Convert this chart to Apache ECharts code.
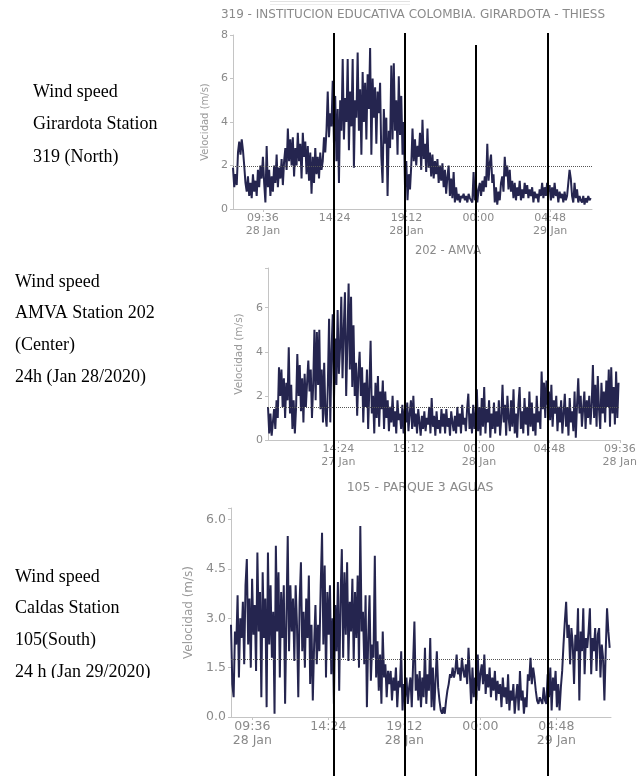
<!DOCTYPE html>
<html><head><meta charset="utf-8">
<script src="https://cdn.jsdelivr.net/npm/echarts@6/dist/echarts.min.js"></script>
<style>html,body{margin:0;padding:0;background:#fff}#c{width:640px;height:776px}</style>
</head><body><div id="c"></div>
<script>
// ---------- Panel titles & captions ----------
const panelTitles = ['319 - INSTITUCION EDUCATIVA COLOMBIA. GIRARDOTA - THIESS', '202 - AMVA', '105 - PARQUE 3 AGUAS'];
const yAxisName = 'Velocidad (m/s)';
const captions1 = ['Wind speed', 'Girardota Station', '319 (North)'];
const captions2 = ['Wind speed', 'AMVA Station 202', '(Center)', '24h (Jan 28/2020)'];
const captions3 = ['Wind speed', 'Caldas Station', '105(South)', '24 h (Jan 29/2020)'];

// ---------- Time axes (hours; samples every 5 min) ----------
const sampleMinutes = 5;
const start319 = 7.6, end319 = 31.6;      // 07:36 28 Jan -> 07:36 29 Jan
const start202 = 9.6, end202 = 33.6;      // 09:36 27 Jan -> 09:36 28 Jan
const start105 = 8.25, end105 = 32.25;    // 08:15 28 Jan -> 08:15 29 Jan
const tickValues319 = [9.6, 14.4, 19.2, 24, 28.8];
const tickLabels319 = ['09:36\n28 Jan', '14:24', '19:12\n28 Jan', '00:00', '04:48\n29 Jan'];
const tickValues202 = [14.4, 19.2, 24, 28.8, 33.6];
const tickLabels202 = ['14:24\n27 Jan', '19:12', '00:00\n28 Jan', '04:48', '09:36\n28 Jan'];
const tickValues105 = [9.6, 14.4, 19.2, 24, 28.8];
const tickLabels105 = ['09:36\n28 Jan', '14:24', '19:12\n28 Jan', '00:00', '04:48\n29 Jan'];

// ---------- Wind speed (m/s), one row = 2 hours ----------
const speed319 = [
 1.9,1.0,1.6,1.1,2.6,3.1,2.5,3.2,2.7,2.0,1.2,0.8,1.5,0.6,1.2,0.5,1.6,0.8,1.3,0.6,1.8,1.0,2.0,1.4,
 2.4,1.2,0.3,2.9,1.0,1.8,0.6,1.5,0.8,2.0,1.2,2.5,1.0,1.9,1.4,2.3,1.1,2.2,2.8,1.8,3.7,2.2,3.2,2.0,
 3.3,1.5,2.8,2.0,3.5,2.2,3.0,1.4,3.5,2.4,3.1,1.6,2.9,1.3,2.6,0.7,2.4,1.2,2.8,1.6,2.4,1.4,2.6,1.8,
 2.2,3.3,2.6,3.6,5.4,3.3,4.4,3.8,5.9,3.0,5.2,2.2,4.6,1.2,5.0,3.6,6.9,3.2,5.1,4.0,6.9,2.7,5.4,3.8,
 6.9,1.9,5.0,4.2,7.2,3.6,5.5,2.5,6.3,4.0,5.8,3.2,6.2,4.6,7.4,2.5,6.0,4.2,5.6,3.0,5.4,4.4,5.8,2.4,
 1.2,4.6,3.0,4.2,0.6,3.6,2.8,6.6,3.2,6.7,3.6,5.0,2.5,6.1,3.4,5.2,2.5,4.0,1.0,2.2,0.4,1.6,0.9,2.0,
 3.7,2.2,3.2,2.0,2.9,2.4,3.5,1.8,4.1,2.3,3.0,1.7,3.7,1.9,2.6,1.5,2.5,1.4,2.2,1.6,2.3,1.2,2.0,1.3,
 2.1,1.0,1.8,0.7,1.5,2.0,0.6,1.4,0.5,1.7,0.3,1.0,0.4,0.7,0.3,0.6,0.5,0.7,0.4,0.6,0.3,0.7,0.5,0.4,
 0.3,1.7,0.4,1.1,0.3,0.9,1.2,0.6,1.3,0.8,1.5,1.0,3.0,1.3,2.1,2.5,1.2,1.6,0.3,1.0,0.2,0.8,0.4,1.2,
 1.5,0.8,2.4,1.5,2.0,0.9,1.8,0.8,1.3,0.5,1.2,0.4,1.0,0.6,1.3,0.4,0.9,0.5,1.2,0.7,1.1,0.5,0.9,0.6,
 1.0,0.3,0.8,0.5,0.7,0.3,0.9,0.6,1.2,0.5,1.0,0.6,1.2,0.8,1.1,0.4,1.0,0.5,1.2,0.6,0.9,0.3,0.8,0.5,
 0.7,0.3,0.8,0.4,0.6,1.2,1.8,1.4,0.6,0.3,1.2,0.5,0.9,0.3,0.6,0.4,0.3,0.6,0.2,0.5,0.3,0.6,0.4,0.5
];
const speed202 = [
 1.5,0.3,1.2,0.2,0.8,1.4,0.5,1.8,1.0,3.3,2.0,3.2,1.5,2.8,1.0,2.6,1.8,4.2,1.2,2.5,0.5,1.8,0.3,1.5,
 3.9,2.0,3.4,1.3,2.8,0.8,3.0,1.5,2.6,3.6,2.2,3.2,1.0,2.5,5.0,1.8,4.9,2.5,5.0,1.4,3.2,0.8,3.5,1.2,
 0.6,2.5,5.5,0.8,4.0,5.7,1.8,4.6,2.5,5.9,3.0,4.2,6.5,2.8,5.0,6.7,2.0,4.5,7.1,3.2,6.5,2.4,5.2,2.0,
 3.5,1.1,3.0,4.0,2.0,3.3,0.8,2.6,1.5,3.2,0.5,2.4,4.5,1.2,2.0,0.3,2.6,1.0,2.9,0.6,2.2,1.4,2.7,0.5,
 2.2,1.0,1.8,0.4,1.5,0.8,2.0,0.6,1.3,0.3,1.8,0.9,1.2,0.5,1.6,0.3,1.4,0.8,1.7,0.4,1.2,1.8,0.5,2.0,
 0.6,1.2,0.3,1.4,0.8,0.2,1.1,0.5,1.3,0.4,1.0,0.7,1.5,0.3,1.9,0.6,1.1,0.2,1.3,0.5,0.9,0.3,1.4,0.6,
 1.2,0.3,1.4,0.6,1.0,0.2,1.3,0.8,0.4,1.1,0.3,1.5,0.6,1.2,0.3,1.6,0.7,1.0,0.4,1.4,2.1,0.5,1.2,0.3,
 1.6,0.5,1.2,2.3,0.4,1.5,0.2,1.9,0.6,2.4,0.3,1.4,0.8,1.8,0.1,1.2,0.5,1.7,0.3,1.3,0.6,1.8,0.2,1.0,
 2.5,0.8,1.6,0.2,2.0,1.0,0.4,1.8,0.6,2.3,0.3,1.2,0.1,1.6,2.4,0.5,1.3,0.3,1.9,0.7,1.5,0.2,2.2,0.6,
 1.7,0.4,1.2,0.2,2.0,0.8,1.3,0.5,3.1,1.4,2.6,1.0,2.7,1.6,2.2,0.9,2.5,0.6,1.8,1.2,2.0,0.4,1.5,0.8,
 1.8,0.3,1.2,2.1,0.6,1.5,0.2,1.9,0.8,1.3,0.4,2.2,0.1,1.6,2.8,1.2,2.0,0.6,1.4,2.2,0.5,1.8,1.0,2.0,
 0.7,1.6,3.4,1.0,2.5,0.6,2.9,1.4,0.5,2.6,1.2,2.2,0.8,2.7,1.5,3.2,0.6,3.3,1.2,2.4,0.7,3.1,1.0,2.6
];
const speed105 = [
 2.8,1.0,0.6,2.6,2.2,3.7,1.2,3.0,2.4,3.5,1.6,4.0,4.8,2.2,3.6,1.5,4.2,2.5,3.4,1.4,5.0,2.6,3.8,0.6,
 4.4,2.4,3.6,0.3,5.0,2.2,4.0,1.8,3.2,0.1,5.2,2.6,4.4,1.2,3.8,2.4,4.0,0.4,3.0,5.5,2.0,4.0,2.6,3.6,
 1.7,4.0,2.8,0.6,3.5,4.7,2.0,3.2,1.5,3.6,2.4,4.3,1.0,2.8,0.5,2.2,3.4,1.6,2.8,2.0,4.0,5.6,2.2,4.6,
 1.2,3.8,2.5,4.0,1.3,3.0,0.4,3.4,2.0,4.1,0.8,3.6,5.1,1.8,4.4,2.5,4.7,1.7,3.5,2.6,4.2,1.7,3.8,2.4,
 4.3,1.5,5.8,2.6,3.2,1.6,3.7,0.3,2.4,3.7,1.1,2.2,1.8,4.9,1.2,2.3,0.8,1.9,0.4,2.6,1.2,1.6,0.6,1.4,
 1.0,1.4,0.5,1.2,0.8,1.5,0.3,1.1,0.9,2.0,0.2,1.0,0.6,1.2,0.4,0.9,1.2,0.3,1.6,2.9,0.8,1.3,0.5,1.4,
 0.3,1.2,0.6,2.1,0.4,1.3,0.8,2.4,0.3,1.5,0.2,1.1,2.0,0.9,0.5,0.2,0.1,0.3,0.1,0.5,0.8,1.0,1.3,1.2,
 1.5,1.2,1.4,1.9,1.3,1.5,1.1,1.8,1.4,1.2,1.6,1.0,2.1,1.3,0.4,1.5,0.6,1.2,0.5,1.9,0.8,1.3,1.6,1.0,
 1.9,0.7,1.3,0.9,1.5,0.6,1.2,0.8,1.4,0.5,1.1,0.7,1.0,0.3,1.2,0.6,0.9,0.4,1.3,0.2,0.8,0.5,1.0,0.1,
 0.6,1.0,0.2,1.4,0.5,0.8,0.1,0.6,0.3,1.3,1.1,1.8,1.0,1.5,1.2,0.8,0.5,0.4,0.6,0.5,0.4,0.9,0.5,0.4,
 1.3,0.6,1.5,0.2,1.2,0.8,1.4,0.3,1.0,0.2,0.9,1.4,2.2,2.9,3.5,2.4,2.8,1.6,2.7,2.2,1.0,2.5,2.0,3.3,
 0.5,2.6,2.0,3.3,1.3,2.4,2.1,2.6,3.3,1.3,2.4,2.0,2.7,1.4,2.5,2.7,1.2,2.2,1.8,0.5,2.0,3.3,2.6,2.1
];
// dotted reference (mean) levels
const mean319 = 1.95, mean202 = 1.5, mean105 = 1.76;

// ---------- build chart ----------
const chart = echarts.init(document.getElementById('c'), null, {renderer: 'canvas'});
const SANS = 'DejaVu Sans';
const SERIF = 'Liberation Serif';
const LINE = '#25254f';
const AX = '#c4c4c4';
const TXT = '#8a8a8a';

function toPairs(arr, start) { return arr.map((v, i) => [start + i * sampleMinutes / 60, v]); }

function xAxisOf(gi, min, max, vals, labels, fs, lh) {
  return {
    type: 'value', gridIndex: gi, min: min, max: max,
    axisLine: {show: true, onZero: false, lineStyle: {color: AX, width: 1}},
    axisTick: {show: true, length: 3, lineStyle: {color: AX}, customValues: vals},
    axisLabel: {color: TXT, fontFamily: SANS, fontSize: fs, lineHeight: lh, margin: 3,
      customValues: vals, hideOverlap: false,
      formatter: v => { const k = vals.findIndex(t => Math.abs(t - v) < 1e-6); return k >= 0 ? labels[k] : ''; }},
    splitLine: {show: false}
  };
}
function yAxisOf(gi, max, interval, fs, nameGap, nameFs, dec) {
  return {
    type: 'value', gridIndex: gi, min: 0, max: max, interval: interval,
    name: yAxisName, nameLocation: 'middle', nameGap: nameGap,
    nameTextStyle: {color: '#9a9a9a', fontFamily: SANS, fontSize: nameFs},
    axisLine: {show: true, lineStyle: {color: AX, width: 1}},
    axisTick: {show: true, length: 3, lineStyle: {color: AX}},
    axisLabel: {color: TXT, fontFamily: SANS, fontSize: fs, margin: 5,
      formatter: v => { const r = v / interval; return Math.abs(r - Math.round(r)) < 1e-6 ? v.toFixed(dec) : ''; }},
    splitLine: {show: false}
  };
}
function seriesOf(i, data, mean) {
  return {
    type: 'line', xAxisIndex: i, yAxisIndex: i, data: data, showSymbol: false, symbol: 'none',
    lineStyle: {color: LINE, width: 2}, animation: false, silent: true,
    markLine: {silent: true, symbol: 'none', label: {show: false}, animation: false,
      lineStyle: {type: 'dotted', color: '#555', width: 1}, data: [{yAxis: mean}]}
  };
}
function captionTexts(lines, x, y0, dy) {
  return lines.map((t, k) => ({type: 'text', left: x, top: y0 + k * dy,
    style: {text: t, fill: '#000', font: '18px "' + SERIF + '"'}}));
}
function vline(x, y1) {
  return {type: 'line', shape: {x1: x, y1: y1, x2: x, y2: 776}, style: {stroke: '#000', lineWidth: 2}, z: 100};
}

const option = {
  backgroundColor: '#fff',
  animation: false,
  grid: [
    {left: 233, top: 35, width: 359, height: 174},
    {left: 268, top: 268, width: 360, height: 172},
    {left: 231, top: 508, width: 380, height: 209}
  ],
  xAxis: [
    xAxisOf(0, start319, end319, tickValues319, tickLabels319, 11, 13),
    xAxisOf(1, start202, end202, tickValues202, tickLabels202, 11, 13),
    xAxisOf(2, start105, end105, tickValues105, tickLabels105, 12.5, 14)
  ],
  yAxis: [
    yAxisOf(0, 8, 2, 11, 14, 10, 0),
    yAxisOf(1, 7.8, 2, 11, 13, 10.5, 0),
    yAxisOf(2, 6.35, 1.5, 12.5, 26, 12, 1)
  ],
  series: [
    seriesOf(0, toPairs(speed319, start319), mean319),
    seriesOf(1, toPairs(speed202, start202), mean202),
    seriesOf(2, toPairs(speed105, start105), mean105)
  ],
  graphic: [
    {type: 'rect', shape: {x: 270, y: 1, width: 140, height: 1}, style: {fill: '#e2e2e2'}},
    {type: 'rect', shape: {x: 270, y: 4, width: 140, height: 1}, style: {fill: '#ececec'}},
    {type: 'text', x: 413, y: 15, style: {text: panelTitles[0], fill: TXT, font: '12px "' + SANS + '"', textAlign: 'center', textVerticalAlign: 'middle'}},
    {type: 'text', x: 448, y: 251, style: {text: panelTitles[1], fill: TXT, font: '11.5px "' + SANS + '"', textAlign: 'center', textVerticalAlign: 'middle'}},
    {type: 'text', x: 420, y: 488, style: {text: panelTitles[2], fill: TXT, font: '12.5px "' + SANS + '"', textAlign: 'center', textVerticalAlign: 'middle'}},
    ...captionTexts(captions1, 33, 83, 32.5),
    ...captionTexts(captions2, 15, 273, 31.7),
    ...captionTexts(captions3, 15, 568, 31.7),
    {type: 'rect', shape: {x: 0, y: 678, width: 190, height: 22}, style: {fill: '#fff'}, z: 50},
    vline(334, 33), vline(405, 33), vline(476, 45), vline(548, 33)
  ]
};
chart.setOption(option);
</script></body></html>
